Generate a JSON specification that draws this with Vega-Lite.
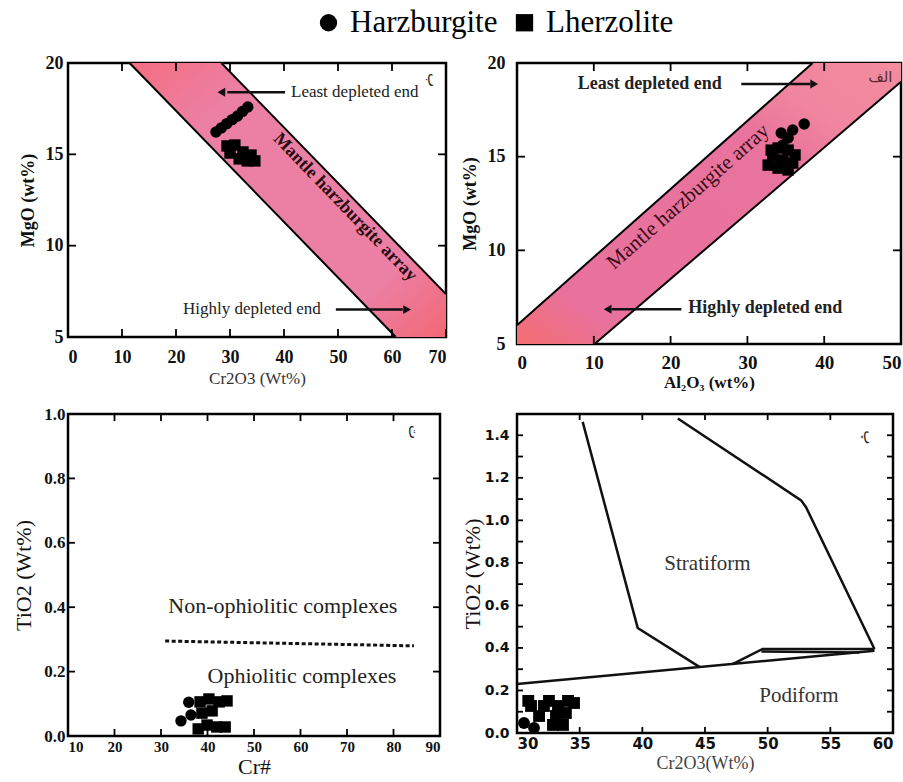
{
  "$schema": "https://vega.github.io/schema/vega-lite/v6.json",
  "background": "white",
  "padding": {"left": 11, "top": 7, "right": 5, "bottom": 5},
  "datasets": {
    "tl_band": [
      {"x": 11.4, "y": 20, "y2": 20},
      {"x": 28.4, "y": 20, "y2": 14.83},
      {"x": 60.7, "y": 10.18, "y2": 5},
      {"x": 70, "y": 7.35, "y2": 5}
    ],
    "tl_lines": [
      {"seg": "a", "x": 11.4, "y": 20},
      {"seg": "a", "x": 60.7, "y": 5},
      {"seg": "b", "x": 28.4, "y": 20},
      {"seg": "b", "x": 70, "y": 7.35}
    ],
    "tl_arrows": [
      {"seg": "a", "x": 40.2, "y": 18.4},
      {"seg": "a", "x": 29.5, "y": 18.4},
      {"seg": "b", "x": 49.6, "y": 6.5},
      {"seg": "b", "x": 62, "y": 6.5}
    ],
    "tl_ticks": [
      {"x1": 0, "x2": 0, "y1": 5, "y2": 5.44}, {"x1": 10, "x2": 10, "y1": 5, "y2": 5.44}, {"x1": 20, "x2": 20, "y1": 5, "y2": 5.44}, {"x1": 30, "x2": 30, "y1": 5, "y2": 5.44},
      {"x1": 40, "x2": 40, "y1": 5, "y2": 5.44}, {"x1": 50, "x2": 50, "y1": 5, "y2": 5.44}, {"x1": 60, "x2": 60, "y1": 5, "y2": 5.44}, {"x1": 70, "x2": 70, "y1": 5, "y2": 5.44},
      {"x1": 10, "x2": 10, "y1": 20, "y2": 19.56}, {"x1": 20, "x2": 20, "y1": 20, "y2": 19.56}, {"x1": 30, "x2": 30, "y1": 20, "y2": 19.56},
      {"x1": 40, "x2": 40, "y1": 20, "y2": 19.56}, {"x1": 50, "x2": 50, "y1": 20, "y2": 19.56}, {"x1": 60, "x2": 60, "y1": 20, "y2": 19.56},
      {"x1": 0, "x2": 1.48, "y1": 10, "y2": 10}, {"x1": 0, "x2": 1.48, "y1": 15, "y2": 15},
      {"x1": 70, "x2": 68.52, "y1": 10, "y2": 10}, {"x1": 70, "x2": 68.52, "y1": 15, "y2": 15}
    ],
    "tr_ticks": [
      {"x1": 10, "x2": 10, "y1": 5, "y2": 5.43}, {"x1": 20, "x2": 20, "y1": 5, "y2": 5.43}, {"x1": 30, "x2": 30, "y1": 5, "y2": 5.43}, {"x1": 40, "x2": 40, "y1": 5, "y2": 5.43},
      {"x1": 10, "x2": 10, "y1": 20, "y2": 19.57}, {"x1": 20, "x2": 20, "y1": 20, "y2": 19.57}, {"x1": 30, "x2": 30, "y1": 20, "y2": 19.57}, {"x1": 40, "x2": 40, "y1": 20, "y2": 19.57},
      {"x1": 0, "x2": 1.04, "y1": 10, "y2": 10}, {"x1": 0, "x2": 1.04, "y1": 15, "y2": 15},
      {"x1": 50, "x2": 48.96, "y1": 10, "y2": 10}, {"x1": 50, "x2": 48.96, "y1": 15, "y2": 15}
    ],
    "bl_ticks": [
      {"x1": 20, "x2": 20, "y1": 0, "y2": 0.022}, {"x1": 30, "x2": 30, "y1": 0, "y2": 0.022}, {"x1": 40, "x2": 40, "y1": 0, "y2": 0.022}, {"x1": 50, "x2": 50, "y1": 0, "y2": 0.022},
      {"x1": 60, "x2": 60, "y1": 0, "y2": 0.022}, {"x1": 70, "x2": 70, "y1": 0, "y2": 0.022}, {"x1": 80, "x2": 80, "y1": 0, "y2": 0.022},
      {"x1": 20, "x2": 20, "y1": 1, "y2": 0.978}, {"x1": 30, "x2": 30, "y1": 1, "y2": 0.978}, {"x1": 40, "x2": 40, "y1": 1, "y2": 0.978}, {"x1": 50, "x2": 50, "y1": 1, "y2": 0.978},
      {"x1": 60, "x2": 60, "y1": 1, "y2": 0.978}, {"x1": 70, "x2": 70, "y1": 1, "y2": 0.978}, {"x1": 80, "x2": 80, "y1": 1, "y2": 0.978},
      {"x1": 10, "x2": 11.5, "y1": 0.2, "y2": 0.2}, {"x1": 10, "x2": 11.5, "y1": 0.4, "y2": 0.4}, {"x1": 10, "x2": 11.5, "y1": 0.6, "y2": 0.6}, {"x1": 10, "x2": 11.5, "y1": 0.8, "y2": 0.8},
      {"x1": 90, "x2": 88.5, "y1": 0.2, "y2": 0.2}, {"x1": 90, "x2": 88.5, "y1": 0.4, "y2": 0.4}, {"x1": 90, "x2": 88.5, "y1": 0.6, "y2": 0.6}, {"x1": 90, "x2": 88.5, "y1": 0.8, "y2": 0.8}
    ],
    "br_ticks": [
      {"x1": 35, "x2": 35, "y1": 0, "y2": 0.028}, {"x1": 40, "x2": 40, "y1": 0, "y2": 0.028}, {"x1": 45, "x2": 45, "y1": 0, "y2": 0.028}, {"x1": 50, "x2": 50, "y1": 0, "y2": 0.028}, {"x1": 55, "x2": 55, "y1": 0, "y2": 0.028},
      {"x1": 35, "x2": 35, "y1": 1.5, "y2": 1.472}, {"x1": 40, "x2": 40, "y1": 1.5, "y2": 1.472}, {"x1": 45, "x2": 45, "y1": 1.5, "y2": 1.472}, {"x1": 50, "x2": 50, "y1": 1.5, "y2": 1.472}, {"x1": 55, "x2": 55, "y1": 1.5, "y2": 1.472},
      {"x1": 30, "x2": 30.48, "y1": 0.1, "y2": 0.1}, {"x1": 30, "x2": 30.48, "y1": 0.2, "y2": 0.2}, {"x1": 30, "x2": 30.48, "y1": 0.3, "y2": 0.3}, {"x1": 30, "x2": 30.48, "y1": 0.4, "y2": 0.4},
      {"x1": 30, "x2": 30.48, "y1": 0.5, "y2": 0.5}, {"x1": 30, "x2": 30.48, "y1": 0.6, "y2": 0.6}, {"x1": 30, "x2": 30.48, "y1": 0.7, "y2": 0.7}, {"x1": 30, "x2": 30.48, "y1": 0.8, "y2": 0.8},
      {"x1": 30, "x2": 30.48, "y1": 0.9, "y2": 0.9}, {"x1": 30, "x2": 30.48, "y1": 1.0, "y2": 1.0}, {"x1": 30, "x2": 30.48, "y1": 1.1, "y2": 1.1}, {"x1": 30, "x2": 30.48, "y1": 1.2, "y2": 1.2},
      {"x1": 30, "x2": 30.48, "y1": 1.3, "y2": 1.3}, {"x1": 30, "x2": 30.48, "y1": 1.4, "y2": 1.4},
      {"x1": 60, "x2": 59.52, "y1": 0.1, "y2": 0.1}, {"x1": 60, "x2": 59.52, "y1": 0.2, "y2": 0.2}, {"x1": 60, "x2": 59.52, "y1": 0.3, "y2": 0.3}, {"x1": 60, "x2": 59.52, "y1": 0.4, "y2": 0.4},
      {"x1": 60, "x2": 59.52, "y1": 0.5, "y2": 0.5}, {"x1": 60, "x2": 59.52, "y1": 0.6, "y2": 0.6}, {"x1": 60, "x2": 59.52, "y1": 0.7, "y2": 0.7}, {"x1": 60, "x2": 59.52, "y1": 0.8, "y2": 0.8},
      {"x1": 60, "x2": 59.52, "y1": 0.9, "y2": 0.9}, {"x1": 60, "x2": 59.52, "y1": 1.0, "y2": 1.0}, {"x1": 60, "x2": 59.52, "y1": 1.1, "y2": 1.1}, {"x1": 60, "x2": 59.52, "y1": 1.2, "y2": 1.2},
      {"x1": 60, "x2": 59.52, "y1": 1.3, "y2": 1.3}, {"x1": 60, "x2": 59.52, "y1": 1.4, "y2": 1.4}
    ],
    "tl_pts": [
      {"rock": "Harzburgite", "x": 27.4, "y": 16.22},
      {"rock": "Harzburgite", "x": 28.4, "y": 16.45},
      {"rock": "Harzburgite", "x": 29.4, "y": 16.68},
      {"rock": "Harzburgite", "x": 30.4, "y": 16.9},
      {"rock": "Harzburgite", "x": 31.4, "y": 17.1},
      {"rock": "Harzburgite", "x": 32.3, "y": 17.35},
      {"rock": "Harzburgite", "x": 33.3, "y": 17.59},
      {"rock": "Lherzolite", "x": 29.45, "y": 15.46},
      {"rock": "Lherzolite", "x": 30.9, "y": 15.51},
      {"rock": "Lherzolite", "x": 30.0, "y": 15.07},
      {"rock": "Lherzolite", "x": 32.4, "y": 15.13},
      {"rock": "Lherzolite", "x": 33.9, "y": 14.96},
      {"rock": "Lherzolite", "x": 33.2, "y": 14.64},
      {"rock": "Lherzolite", "x": 34.6, "y": 14.64},
      {"rock": "Lherzolite", "x": 31.7, "y": 14.75}
    ],
    "tr_band": [
      {"x": 0, "y": 6, "y2": 5},
      {"x": 10.1, "y": 9.67, "y2": 5},
      {"x": 38.5, "y": 20, "y2": 14.97},
      {"x": 50, "y": 20, "y2": 19.0}
    ],
    "tr_lines": [
      {"seg": "a", "x": 0, "y": 6},
      {"seg": "a", "x": 38.5, "y": 20},
      {"seg": "b", "x": 10.1, "y": 5},
      {"seg": "b", "x": 50, "y": 19.0}
    ],
    "tr_arrows": [
      {"seg": "a", "x": 29.2, "y": 18.88},
      {"seg": "a", "x": 38.2, "y": 18.88},
      {"seg": "b", "x": 21.4, "y": 6.85},
      {"seg": "b", "x": 12.3, "y": 6.85}
    ],
    "tr_pts": [
      {"rock": "Harzburgite", "x": 37.4, "y": 16.74},
      {"rock": "Harzburgite", "x": 35.9, "y": 16.42},
      {"rock": "Harzburgite", "x": 35.3, "y": 16.0},
      {"rock": "Harzburgite", "x": 34.6, "y": 15.62},
      {"rock": "Harzburgite", "x": 34.4, "y": 16.26},
      {"rock": "Lherzolite", "x": 34.0, "y": 15.46},
      {"rock": "Lherzolite", "x": 35.3, "y": 15.35},
      {"rock": "Lherzolite", "x": 36.2, "y": 15.09},
      {"rock": "Lherzolite", "x": 33.3, "y": 14.98},
      {"rock": "Lherzolite", "x": 34.6, "y": 14.82},
      {"rock": "Lherzolite", "x": 35.9, "y": 14.66},
      {"rock": "Lherzolite", "x": 32.7, "y": 14.55},
      {"rock": "Lherzolite", "x": 34.0, "y": 14.39},
      {"rock": "Lherzolite", "x": 35.3, "y": 14.29},
      {"rock": "Lherzolite", "x": 33.1, "y": 15.35}
    ],
    "bl_pts": [
      {"rock": "Harzburgite", "x": 35.96, "y": 0.105},
      {"rock": "Harzburgite", "x": 34.3, "y": 0.047},
      {"rock": "Harzburgite", "x": 36.45, "y": 0.065},
      {"rock": "Lherzolite", "x": 38.4, "y": 0.106},
      {"rock": "Lherzolite", "x": 40.3, "y": 0.115},
      {"rock": "Lherzolite", "x": 42.5, "y": 0.106},
      {"rock": "Lherzolite", "x": 44.2, "y": 0.109},
      {"rock": "Lherzolite", "x": 38.8, "y": 0.071},
      {"rock": "Lherzolite", "x": 41.0, "y": 0.078},
      {"rock": "Lherzolite", "x": 39.9, "y": 0.034},
      {"rock": "Lherzolite", "x": 42.0, "y": 0.028},
      {"rock": "Lherzolite", "x": 43.8, "y": 0.028},
      {"rock": "Lherzolite", "x": 38.0, "y": 0.022}
    ],
    "br_lines": [
      {"seg": "s1", "x": 35.24, "y": 1.463},
      {"seg": "s1", "x": 39.63, "y": 0.494},
      {"seg": "s1", "x": 44.55, "y": 0.311},
      {"seg": "s2", "x": 42.83, "y": 1.479},
      {"seg": "s2", "x": 52.67, "y": 1.094},
      {"seg": "s2", "x": 53.06, "y": 1.062},
      {"seg": "s2", "x": 58.52, "y": 0.395},
      {"seg": "s3", "x": 47.2, "y": 0.324},
      {"seg": "s3", "x": 49.6, "y": 0.395},
      {"seg": "s3", "x": 58.52, "y": 0.395},
      {"seg": "s4", "x": 30, "y": 0.23},
      {"seg": "s4", "x": 58.52, "y": 0.387},
      {"seg": "s5", "x": 49.5, "y": 0.383},
      {"seg": "s5", "x": 57.3, "y": 0.378}
    ],
    "br_pts": [
      {"rock": "Harzburgite", "x": 30.56, "y": 0.047},
      {"rock": "Harzburgite", "x": 31.36, "y": 0.024},
      {"rock": "Lherzolite", "x": 31.12, "y": 0.127},
      {"rock": "Lherzolite", "x": 32.15, "y": 0.127},
      {"rock": "Lherzolite", "x": 33.27, "y": 0.127},
      {"rock": "Lherzolite", "x": 34.55, "y": 0.141},
      {"rock": "Lherzolite", "x": 31.76, "y": 0.08},
      {"rock": "Lherzolite", "x": 33.11, "y": 0.08},
      {"rock": "Lherzolite", "x": 33.9, "y": 0.094},
      {"rock": "Lherzolite", "x": 32.87, "y": 0.038},
      {"rock": "Lherzolite", "x": 33.67, "y": 0.038},
      {"rock": "Lherzolite", "x": 30.9, "y": 0.151},
      {"rock": "Lherzolite", "x": 32.55, "y": 0.151},
      {"rock": "Lherzolite", "x": 34.07, "y": 0.151}
    ]
  },
  "config": {
    "font": "Liberation Serif",
    "view": {"stroke": "black", "strokeWidth": 2.5},
    "axis": {"domain": false, "grid": false, "ticks": false, "tickSize": 0, "labelColor": "#111", "titleColor": "#111", "labelFont": "Liberation Serif", "titleFont": "Liberation Serif"},
    "legend": {"orient": "none", "legendX": 245, "legendY": -56, "direction": "horizontal", "labelFont": "Liberation Serif", "labelFontSize": 31, "labelColor": "black", "symbolSize": 300, "symbolFillColor": "black", "symbolStrokeColor": "black", "columnPadding": 11, "labelOffset": 6}
  },
  "columns": 2,
  "align": {"row": "each", "column": "none"},
  "spacing": {"row": 11, "column": 7},
  "concat": [
    {
      "width": 378, "height": 274,
      "layer": [
        {
          "data": {"name": "tl_band"},
          "mark": {"type": "area", "opacity": 1, "color": {"gradient": "linear", "x1": 0, "y1": 0, "x2": 1, "y2": 1, "stops": [{"offset": 0, "color": "#F46E80"}, {"offset": 0.22, "color": "#EC7FA4"}, {"offset": 0.8, "color": "#EC7FA4"}, {"offset": 1, "color": "#F26874"}]}},
          "encoding": {
            "x": {"field": "x", "type": "quantitative", "scale": {"domain": [0, 70], "nice": false, "zero": false}, "axis": {"orient": "bottom", "values": [0, 10, 20, 30, 40, 50, 60, 70], "labelFontWeight": "bold", "labelFontSize": 18, "labelPadding": 11, "title": "Cr2O3 (Wt%)", "titleFontSize": 17, "titleFontWeight": "normal", "titleColor": "#333", "titlePadding": 4}},
            "y": {"field": "y", "type": "quantitative", "scale": {"domain": [5, 20], "nice": false, "zero": false}, "axis": {"orient": "left", "values": [5, 10, 15, 20], "labelFontWeight": "bold", "labelFontSize": 18, "labelPadding": 5, "title": "MgO (wt%)", "titleFontSize": 18, "titleFontWeight": "bold", "titlePadding": 8}},
            "y2": {"field": "y2"}
          }
        },
        {
          "data": {"name": "tl_ticks"},
          "mark": {"type": "rule", "color": "black", "strokeWidth": 1.8},
          "encoding": {"x": {"field": "x1", "type": "quantitative"}, "x2": {"field": "x2"}, "y": {"field": "y1", "type": "quantitative"}, "y2": {"field": "y2"}}
        },
        {
          "data": {"name": "tl_lines"},
          "mark": {"type": "line", "color": "black", "strokeWidth": 2},
          "encoding": {"x": {"field": "x", "type": "quantitative"}, "y": {"field": "y", "type": "quantitative"}, "detail": {"field": "seg"}}
        },
        {
          "data": {"name": "tl_arrows"},
          "mark": {"type": "line", "color": "#111", "strokeWidth": 2.5},
          "encoding": {"x": {"field": "x", "type": "quantitative"}, "y": {"field": "y", "type": "quantitative"}, "detail": {"field": "seg"}}
        },
        {
          "data": {"values": [{"x": 28.4, "y": 18.4}]},
          "mark": {"type": "point", "shape": "triangle-left", "filled": true, "opacity": 1, "color": "#111", "size": 80},
          "encoding": {"x": {"field": "x", "type": "quantitative"}, "y": {"field": "y", "type": "quantitative"}}
        },
        {
          "data": {"values": [{"x": 62.8, "y": 6.5}]},
          "mark": {"type": "point", "shape": "triangle-right", "filled": true, "opacity": 1, "color": "#111", "size": 80},
          "encoding": {"x": {"field": "x", "type": "quantitative"}, "y": {"field": "y", "type": "quantitative"}}
        },
        {
          "data": {"values": [{"x": 41.3, "y": 18.4, "t": "Least depleted end"}, {"x": 21.3, "y": 6.55, "t": "Highly depleted end"}]},
          "mark": {"type": "text", "font": "Liberation Serif", "fontSize": 17, "align": "left", "baseline": "middle", "color": "#222"},
          "encoding": {"x": {"field": "x", "type": "quantitative"}, "y": {"field": "y", "type": "quantitative"}, "text": {"field": "t"}}
        },
        {
          "data": {"values": [{"x": 51.3, "y": 12.1, "t": "Mantle harzburgite array"}]},
          "mark": {"type": "text", "font": "Liberation Serif", "fontSize": 18, "fontWeight": "bold", "angle": 46, "align": "center", "baseline": "middle", "color": "#2a0a10"},
          "encoding": {"x": {"field": "x", "type": "quantitative"}, "y": {"field": "y", "type": "quantitative"}, "text": {"field": "t"}}
        },
        {
          "data": {"values": [{"x": 67.6, "y": 19.07, "t": "ب"}]},
          "mark": {"type": "text", "font": "DejaVu Sans", "fontSize": 15, "angle": 90, "align": "center", "baseline": "middle", "color": "#222"},
          "encoding": {"x": {"field": "x", "type": "quantitative"}, "y": {"field": "y", "type": "quantitative"}, "text": {"field": "t"}}
        },
        {
          "data": {"name": "tl_pts"},
          "mark": {"type": "point", "filled": true, "opacity": 1, "color": "black", "size": 130},
          "encoding": {
            "x": {"field": "x", "type": "quantitative"},
            "y": {"field": "y", "type": "quantitative"},
            "shape": {"field": "rock", "type": "nominal", "title": null, "scale": {"domain": ["Harzburgite", "Lherzolite"], "range": ["circle", "square"]}}
          }
        }
      ]
    },
    {
      "width": 384, "height": 281,
      "layer": [
        {
          "data": {"name": "tr_band"},
          "mark": {"type": "area", "opacity": 1, "color": {"gradient": "linear", "x1": 0, "y1": 1, "x2": 1, "y2": 0, "stops": [{"offset": 0, "color": "#F46E70"}, {"offset": 0.15, "color": "#E9729C"}, {"offset": 0.68, "color": "#E8739C"}, {"offset": 0.8, "color": "#F0859F"}, {"offset": 1, "color": "#F38C9E"}]}},
          "encoding": {
            "x": {"field": "x", "type": "quantitative", "scale": {"domain": [0, 50], "nice": false, "zero": false}, "axis": {"orient": "bottom", "values": [0, 10, 20, 30, 40, 50], "labelFontWeight": "bold", "labelFontSize": 19, "labelPadding": 9, "title": "Al₂O₃ (wt%)", "titleFontSize": 17, "titleFontWeight": "bold", "titlePadding": 2}},
            "y": {"field": "y", "type": "quantitative", "scale": {"domain": [5, 20], "nice": false, "zero": false}, "axis": {"orient": "left", "values": [5, 10, 15, 20], "labelFontWeight": "bold", "labelFontSize": 18, "labelPadding": 12, "title": "MgO (wt%)", "titleFontSize": 18, "titleFontWeight": "bold", "titlePadding": 8}},
            "y2": {"field": "y2"}
          }
        },
        {
          "data": {"name": "tr_ticks"},
          "mark": {"type": "rule", "color": "black", "strokeWidth": 1.8},
          "encoding": {"x": {"field": "x1", "type": "quantitative"}, "x2": {"field": "x2"}, "y": {"field": "y1", "type": "quantitative"}, "y2": {"field": "y2"}}
        },
        {
          "data": {"name": "tr_lines"},
          "mark": {"type": "line", "color": "black", "strokeWidth": 2},
          "encoding": {"x": {"field": "x", "type": "quantitative"}, "y": {"field": "y", "type": "quantitative"}, "detail": {"field": "seg"}}
        },
        {
          "data": {"name": "tr_arrows"},
          "mark": {"type": "line", "color": "#111", "strokeWidth": 2.5},
          "encoding": {"x": {"field": "x", "type": "quantitative"}, "y": {"field": "y", "type": "quantitative"}, "detail": {"field": "seg"}}
        },
        {
          "data": {"values": [{"x": 38.7, "y": 18.88}]},
          "mark": {"type": "point", "shape": "triangle-right", "filled": true, "opacity": 1, "color": "#111", "size": 80},
          "encoding": {"x": {"field": "x", "type": "quantitative"}, "y": {"field": "y", "type": "quantitative"}}
        },
        {
          "data": {"values": [{"x": 11.8, "y": 6.85}]},
          "mark": {"type": "point", "shape": "triangle-left", "filled": true, "opacity": 1, "color": "#111", "size": 80},
          "encoding": {"x": {"field": "x", "type": "quantitative"}, "y": {"field": "y", "type": "quantitative"}}
        },
        {
          "data": {"values": [{"x": 7.9, "y": 18.88, "t": "Least depleted end"}, {"x": 22.3, "y": 6.9, "t": "Highly depleted end"}]},
          "mark": {"type": "text", "font": "Liberation Serif", "fontSize": 18, "fontWeight": "bold", "align": "left", "baseline": "middle", "color": "#222"},
          "encoding": {"x": {"field": "x", "type": "quantitative"}, "y": {"field": "y", "type": "quantitative"}, "text": {"field": "t"}}
        },
        {
          "data": {"values": [{"x": 22.3, "y": 12.85, "t": "Mantle harzburgite array"}]},
          "mark": {"type": "text", "font": "Liberation Serif", "fontSize": 21, "angle": -41.3, "align": "center", "baseline": "middle", "color": "#3a0a18"},
          "encoding": {"x": {"field": "x", "type": "quantitative"}, "y": {"field": "y", "type": "quantitative"}, "text": {"field": "t"}}
        },
        {
          "data": {"values": [{"x": 47.3, "y": 19.25, "t": "الف"}]},
          "mark": {"type": "text", "font": "DejaVu Sans", "fontSize": 15, "align": "center", "baseline": "middle", "color": "#5a2a30"},
          "encoding": {"x": {"field": "x", "type": "quantitative"}, "y": {"field": "y", "type": "quantitative"}, "text": {"field": "t"}}
        },
        {
          "data": {"name": "tr_pts"},
          "mark": {"type": "point", "filled": true, "opacity": 1, "color": "black", "size": 130},
          "encoding": {
            "x": {"field": "x", "type": "quantitative"},
            "y": {"field": "y", "type": "quantitative"},
            "shape": {"field": "rock", "type": "nominal", "title": null, "scale": {"domain": ["Harzburgite", "Lherzolite"], "range": ["circle", "square"]}}
          }
        }
      ]
    },
    {
      "width": 372, "height": 322,
      "layer": [
        {
          "data": {"values": [{"x": 30.9, "y": 0.295}, {"x": 84.4, "y": 0.28}]},
          "mark": {"type": "line", "color": "#111", "strokeWidth": 3, "strokeDash": [4, 2.5]},
          "encoding": {
            "x": {"field": "x", "type": "quantitative", "scale": {"domain": [10, 90], "nice": false, "zero": false}, "axis": {"orient": "bottom", "values": [10, 20, 30, 40, 50, 60, 70, 80, 90], "labelFontWeight": "bold", "labelFontSize": 15, "labelPadding": 3, "title": "Cr#", "titleFontSize": 22, "titleFontWeight": "normal", "titlePadding": 2}},
            "y": {"field": "y", "type": "quantitative", "scale": {"domain": [0, 1], "nice": false, "zero": false}, "axis": {"orient": "left", "values": [0, 0.2, 0.4, 0.6, 0.8, 1.0], "format": ".1f", "labelFontWeight": "bold", "labelFontSize": 17, "labelPadding": 3, "title": "TiO2 (Wt%)", "titleFontSize": 22, "titleFontWeight": "normal", "titlePadding": 8}}
          }
        },
        {
          "data": {"name": "bl_ticks"},
          "mark": {"type": "rule", "color": "black", "strokeWidth": 1.8},
          "encoding": {"x": {"field": "x1", "type": "quantitative"}, "x2": {"field": "x2"}, "y": {"field": "y1", "type": "quantitative"}, "y2": {"field": "y2"}}
        },
        {
          "data": {"values": [{"x": 56.2, "y": 0.404, "t": "Non-ophiolitic complexes"}, {"x": 60.3, "y": 0.186, "t": "Ophiolitic complexes"}]},
          "mark": {"type": "text", "font": "Liberation Serif", "fontSize": 22, "align": "center", "baseline": "middle", "color": "#222"},
          "encoding": {"x": {"field": "x", "type": "quantitative"}, "y": {"field": "y", "type": "quantitative"}, "text": {"field": "t"}}
        },
        {
          "data": {"values": [{"x": 84.4, "y": 0.944, "t": "ت"}]},
          "mark": {"type": "text", "font": "DejaVu Sans", "fontSize": 15, "angle": 90, "align": "center", "baseline": "middle", "color": "#222"},
          "encoding": {"x": {"field": "x", "type": "quantitative"}, "y": {"field": "y", "type": "quantitative"}, "text": {"field": "t"}}
        },
        {
          "data": {"name": "bl_pts"},
          "mark": {"type": "point", "filled": true, "opacity": 1, "color": "black", "size": 130},
          "encoding": {
            "x": {"field": "x", "type": "quantitative"},
            "y": {"field": "y", "type": "quantitative"},
            "shape": {"field": "rock", "type": "nominal", "title": null, "scale": {"domain": ["Harzburgite", "Lherzolite"], "range": ["circle", "square"]}}
          }
        }
      ]
    },
    {
      "width": 376, "height": 319,
      "layer": [
        {
          "data": {"name": "br_lines"},
          "mark": {"type": "line", "color": "#111", "strokeWidth": 2.5},
          "encoding": {
            "x": {"field": "x", "type": "quantitative", "scale": {"domain": [30, 60], "nice": false, "zero": false}, "axis": {"orient": "bottom", "values": [30, 35, 40, 45, 50, 55, 60], "labelFont": "DejaVu Sans", "labelFontWeight": "bold", "labelFontSize": 15, "labelPadding": 3, "title": "Cr2O3(Wt%)", "titleFontSize": 18, "titleFontWeight": "normal", "titleColor": "#444", "titlePadding": 3}},
            "y": {"field": "y", "type": "quantitative", "scale": {"domain": [0, 1.5], "nice": false, "zero": false}, "axis": {"orient": "left", "values": [0, 0.2, 0.4, 0.6, 0.8, 1.0, 1.2, 1.4], "format": ".1f", "labelFont": "DejaVu Sans", "labelFontWeight": "bold", "labelFontSize": 14, "labelPadding": 8, "title": "TiO2 (Wt%)", "titleFontSize": 22, "titleFontWeight": "normal", "titlePadding": 0}},
            "detail": {"field": "seg"}
          }
        },
        {
          "data": {"name": "br_ticks"},
          "mark": {"type": "rule", "color": "black", "strokeWidth": 1.8},
          "encoding": {"x": {"field": "x1", "type": "quantitative"}, "x2": {"field": "x2"}, "y": {"field": "y1", "type": "quantitative"}, "y2": {"field": "y2"}}
        },
        {
          "data": {"values": [{"x": 45.2, "y": 0.795, "t": "Stratiform"}, {"x": 52.5, "y": 0.174, "t": "Podiform"}]},
          "mark": {"type": "text", "font": "Liberation Serif", "fontSize": 21, "align": "center", "baseline": "middle", "color": "#333"},
          "encoding": {"x": {"field": "x", "type": "quantitative"}, "y": {"field": "y", "type": "quantitative"}, "text": {"field": "t"}}
        },
        {
          "data": {"values": [{"x": 58.1, "y": 1.39, "t": "پ"}]},
          "mark": {"type": "text", "font": "DejaVu Sans", "fontSize": 15, "angle": 90, "align": "center", "baseline": "middle", "color": "#222"},
          "encoding": {"x": {"field": "x", "type": "quantitative"}, "y": {"field": "y", "type": "quantitative"}, "text": {"field": "t"}}
        },
        {
          "data": {"name": "br_pts"},
          "mark": {"type": "point", "filled": true, "opacity": 1, "color": "black", "size": 140},
          "encoding": {
            "x": {"field": "x", "type": "quantitative"},
            "y": {"field": "y", "type": "quantitative"},
            "shape": {"field": "rock", "type": "nominal", "title": null, "scale": {"domain": ["Harzburgite", "Lherzolite"], "range": ["circle", "square"]}}
          }
        }
      ]
    }
  ]
}
